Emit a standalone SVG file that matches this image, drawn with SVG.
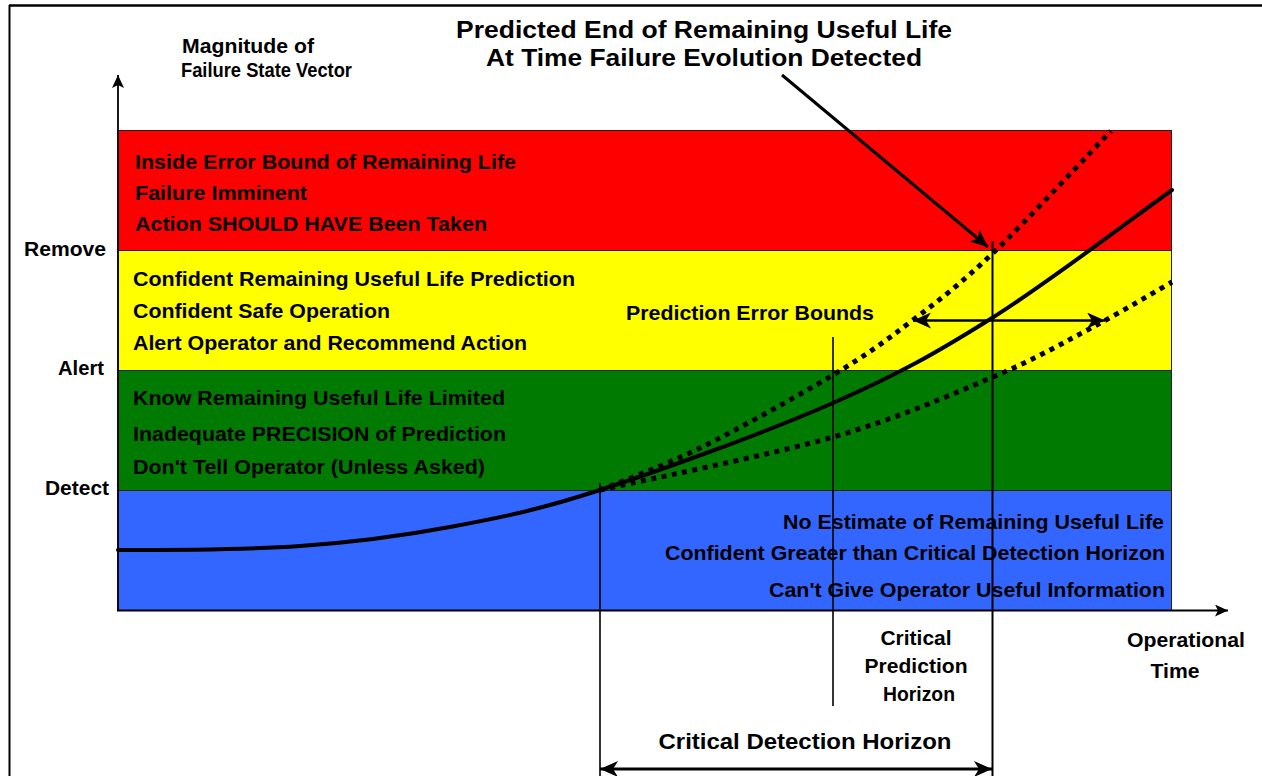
<svg xmlns="http://www.w3.org/2000/svg" width="1262" height="776" viewBox="0 0 1262 776">
<defs>
<style>
text{font-family:"Liberation Sans",Arial,sans-serif;font-weight:bold;fill:#000}
.band{font-size:21px}
.lbl{font-size:20px}
.band-rect{stroke:#222;stroke-width:1}
.thin{stroke:#000;stroke-width:1.6;fill:none}
.curve{stroke:#000;stroke-width:4;fill:none;stroke-linecap:round}
.dash{stroke:#000;stroke-width:5;fill:none;stroke-dasharray:5 5.5}
</style>
<marker id="ah" markerUnits="userSpaceOnUse" markerWidth="20" markerHeight="16" refX="18" refY="8" orient="auto-start-reverse">
<path d="M0,0 L18,8 L0,16 L5,8 z" fill="#000"/>
</marker>
<marker id="ahs" markerUnits="userSpaceOnUse" markerWidth="14" markerHeight="12" refX="13" refY="6" orient="auto-start-reverse">
<path d="M0,0 L13,6 L0,12 L3,6 z" fill="#000"/>
</marker>
</defs>
<rect width="1262" height="776" fill="#fff"/>
<g id="frame">
<line x1="9.5" y1="5" x2="9.5" y2="776" stroke="#000" stroke-width="2"/>
<line x1="9" y1="5.5" x2="1262" y2="5.5" stroke="#000" stroke-width="2.5"/>
</g>
<g id="band-red">
<rect class="band-rect" x="118" y="130.5" width="1053.5" height="120" fill="#ff0000"/>
<text class="band" x="135" y="169" textLength="381" lengthAdjust="spacingAndGlyphs">Inside Error Bound of Remaining Life</text>
<text class="band" x="135" y="200" textLength="172" lengthAdjust="spacingAndGlyphs">Failure Imminent</text>
<text class="band" x="135" y="231" textLength="352" lengthAdjust="spacingAndGlyphs">Action SHOULD HAVE Been Taken</text>
</g>
<g id="band-yellow">
<rect class="band-rect" x="118" y="250.5" width="1053.5" height="120" fill="#ffff00"/>
<text class="band" x="133" y="286" textLength="442" lengthAdjust="spacingAndGlyphs">Confident Remaining Useful Life Prediction</text>
<text class="band" x="133" y="318" textLength="257" lengthAdjust="spacingAndGlyphs">Confident Safe Operation</text>
<text class="band" x="133" y="350" textLength="394" lengthAdjust="spacingAndGlyphs">Alert Operator and Recommend Action</text>
<text class="band" x="626" y="320" textLength="248" lengthAdjust="spacingAndGlyphs">Prediction Error Bounds</text>
</g>
<g id="band-green">
<rect class="band-rect" x="118" y="370.5" width="1053.5" height="120" fill="#007a00"/>
<text class="band" x="133" y="405" textLength="372" lengthAdjust="spacingAndGlyphs">Know Remaining Useful Life Limited</text>
<text class="band" x="133" y="441" textLength="373" lengthAdjust="spacingAndGlyphs">Inadequate PRECISION of Prediction</text>
<text class="band" x="133" y="474" textLength="352" lengthAdjust="spacingAndGlyphs">Don't Tell Operator (Unless Asked)</text>
</g>
<g id="band-blue">
<rect class="band-rect" x="118" y="490.5" width="1053.5" height="120" fill="#3366ff"/>
<text class="band" x="1164" y="529" text-anchor="end" textLength="381" lengthAdjust="spacingAndGlyphs">No Estimate of Remaining Useful Life</text>
<text class="band" x="1165" y="560" text-anchor="end" textLength="500" lengthAdjust="spacingAndGlyphs">Confident Greater than Critical Detection Horizon</text>
<text class="band" x="1165" y="597" text-anchor="end" textLength="396" lengthAdjust="spacingAndGlyphs">Can't Give Operator Useful Information</text>
</g>
<g id="axis-labels">
<text class="lbl" x="182" y="53" textLength="132" lengthAdjust="spacingAndGlyphs">Magnitude of</text>
<text class="lbl" x="181" y="77" textLength="171" lengthAdjust="spacingAndGlyphs">Failure State Vector</text>
<text class="lbl" x="106" y="256" text-anchor="end" textLength="82" lengthAdjust="spacingAndGlyphs">Remove</text>
<text class="lbl" x="104" y="375" text-anchor="end" textLength="46" lengthAdjust="spacingAndGlyphs">Alert</text>
<text class="lbl" x="109" y="495" text-anchor="end" textLength="64" lengthAdjust="spacingAndGlyphs">Detect</text>
<text class="lbl" x="1186" y="647" text-anchor="middle" textLength="118" lengthAdjust="spacingAndGlyphs">Operational</text>
<text class="lbl" x="1175" y="678" text-anchor="middle" textLength="49" lengthAdjust="spacingAndGlyphs">Time</text>
<text class="lbl" x="916" y="645" text-anchor="middle" textLength="71" lengthAdjust="spacingAndGlyphs">Critical</text>
<text class="lbl" x="916" y="673" text-anchor="middle" textLength="103" lengthAdjust="spacingAndGlyphs">Prediction</text>
<text class="lbl" x="919" y="701" text-anchor="middle" textLength="72" lengthAdjust="spacingAndGlyphs">Horizon</text>
<text x="805" y="749" text-anchor="middle" font-size="22" textLength="293" lengthAdjust="spacingAndGlyphs">Critical Detection Horizon</text>
</g>
<g id="title">
<text x="704" y="38" text-anchor="middle" font-size="24" textLength="496" lengthAdjust="spacingAndGlyphs">Predicted End of Remaining Useful Life</text>
<text x="704" y="66" text-anchor="middle" font-size="24" textLength="436" lengthAdjust="spacingAndGlyphs">At Time Failure Evolution Detected</text>
</g>
<g id="connectors">
<line x1="118" y1="611" x2="118" y2="75" stroke="#000" stroke-width="1.8" marker-end="url(#ahs)"/>
<line x1="117" y1="610.5" x2="1228" y2="610.5" stroke="#000" stroke-width="2" marker-end="url(#ahs)"/>
<line class="thin" x1="600" y1="483" x2="600" y2="776"/>
<line class="thin" x1="833" y1="337" x2="833" y2="706"/>
<line x1="992.5" y1="241" x2="992.5" y2="776" stroke="#000" stroke-width="2"/>
<path class="curve" d="M118,550 C180,550 244.7,549.8 300,546 C355.3,542.2 400,536.3 450,527 C500,517.7 536.2,510.7 600,490 C663.8,469.3 767.7,431.7 833,403 C898.3,374.3 935.5,353.5 992,318 C1048.5,282.5 1142,211.3 1172,190"/>
<path class="dash" d="M600,490 C616.7,483 661.2,467.2 700,448 C738.8,428.8 797.5,396.3 833,375 C868.5,353.7 886.3,340.3 913,320 C939.7,299.7 960,284.5 993,253 C1026,221.5 1091.3,151.3 1111,131"/>
<path class="dash" d="M600,490 C638.8,481.2 767.5,455.8 833,437 C898.5,418.2 949.7,395.3 993,377 C1036.3,358.7 1063.2,342.8 1093,327 C1122.8,311.2 1158.8,289.5 1172,282"/>
<line x1="913" y1="320.5" x2="1105" y2="320.5" stroke="#000" stroke-width="2.5" marker-start="url(#ah)" marker-end="url(#ah)"/>
<line x1="782" y1="75" x2="988" y2="247" stroke="#000" stroke-width="3" marker-end="url(#ah)"/>
<line x1="600" y1="769" x2="992" y2="769" stroke="#000" stroke-width="3" marker-start="url(#ah)" marker-end="url(#ah)"/>
</g>
</svg>
